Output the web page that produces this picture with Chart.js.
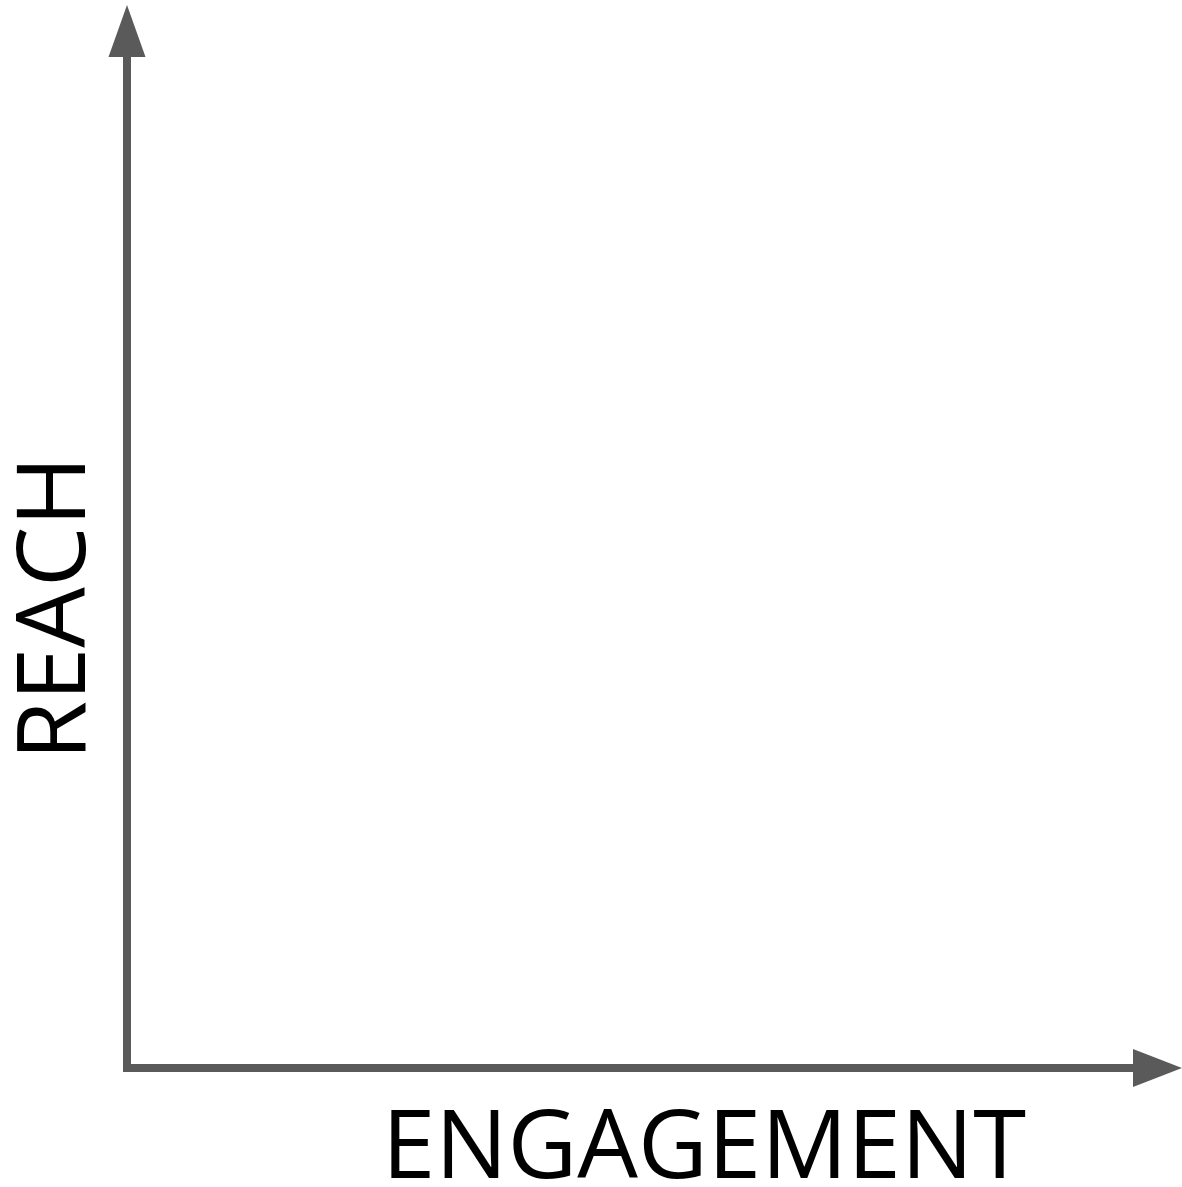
<!DOCTYPE html>
<html>
<head>
<meta charset="utf-8">
<script src="https://cdn.jsdelivr.net/npm/chart.js@4"></script>
<style>
  html, body { margin: 0; padding: 0; background: #fff; }
  #wrap { width: 1182px; height: 1187px; }
</style>
</head>
<body>
<div id="wrap"><canvas id="chart" width="1182" height="1187"></canvas></div>
<script>
// empty quadrant: only the two axes and their titles
const xTitle = "ENGAGEMENT";
const yTitle = "REACH";
const points = [];
const xRange = [0, 1];
const yRange = [0, 1];

const axisColor = "#5a5a5a";
const axisWidth = 8;

const arrowsAndTitles = {
  id: "arrowsAndTitles",
  afterDraw(chart) {
    const ctx = chart.ctx;
    const x = chart.scales.x;
    const y = chart.scales.y;
    const left = x.getPixelForValue(xRange[0]);
    const right = x.getPixelForValue(xRange[1]);
    const bottom = y.getPixelForValue(yRange[0]);
    const top = y.getPixelForValue(yRange[1]);
    const h = axisWidth / 2;

    ctx.save();
    ctx.fillStyle = axisColor;
    // corner
    ctx.fillRect(left - h, bottom - h, axisWidth, axisWidth);
    // up arrow
    ctx.beginPath();
    ctx.moveTo(left - 18.5, top);
    ctx.lineTo(left + 18.5, top);
    ctx.lineTo(left, top - 52);
    ctx.closePath();
    ctx.fill();
    // right arrow
    ctx.beginPath();
    ctx.moveTo(right, bottom - 19);
    ctx.lineTo(right, bottom + 19);
    ctx.lineTo(right + 49, bottom);
    ctx.closePath();
    ctx.fill();

    // titles
    ctx.fillStyle = "#000";
    ctx.font = "96px 'Open Sans'";
    ctx.textAlign = "center";
    ctx.textBaseline = "alphabetic";
    ctx.fillText(xTitle, 704, 1178);
    ctx.translate(85, 608);
    ctx.rotate(-Math.PI / 2);
    ctx.fillText(yTitle, 0, 0);
    ctx.restore();
  }
};

new Chart(document.getElementById("chart"), {
  type: "scatter",
  data: { datasets: [{ data: points }] },
  options: {
    responsive: false,
    animation: false,
    devicePixelRatio: 1,
    layout: { padding: { left: 119, right: 49, top: 57, bottom: 111 } },
    plugins: { legend: { display: false }, tooltip: { enabled: false } },
    scales: {
      x: {
        min: xRange[0], max: xRange[1],
        grid: { display: false },
        ticks: { display: false },
        border: { display: true, color: axisColor, width: axisWidth }
      },
      y: {
        min: yRange[0], max: yRange[1],
        grid: { display: false },
        ticks: { display: false },
        border: { display: true, color: axisColor, width: axisWidth }
      }
    }
  },
  plugins: [arrowsAndTitles]
});
</script>
</body>
</html>
